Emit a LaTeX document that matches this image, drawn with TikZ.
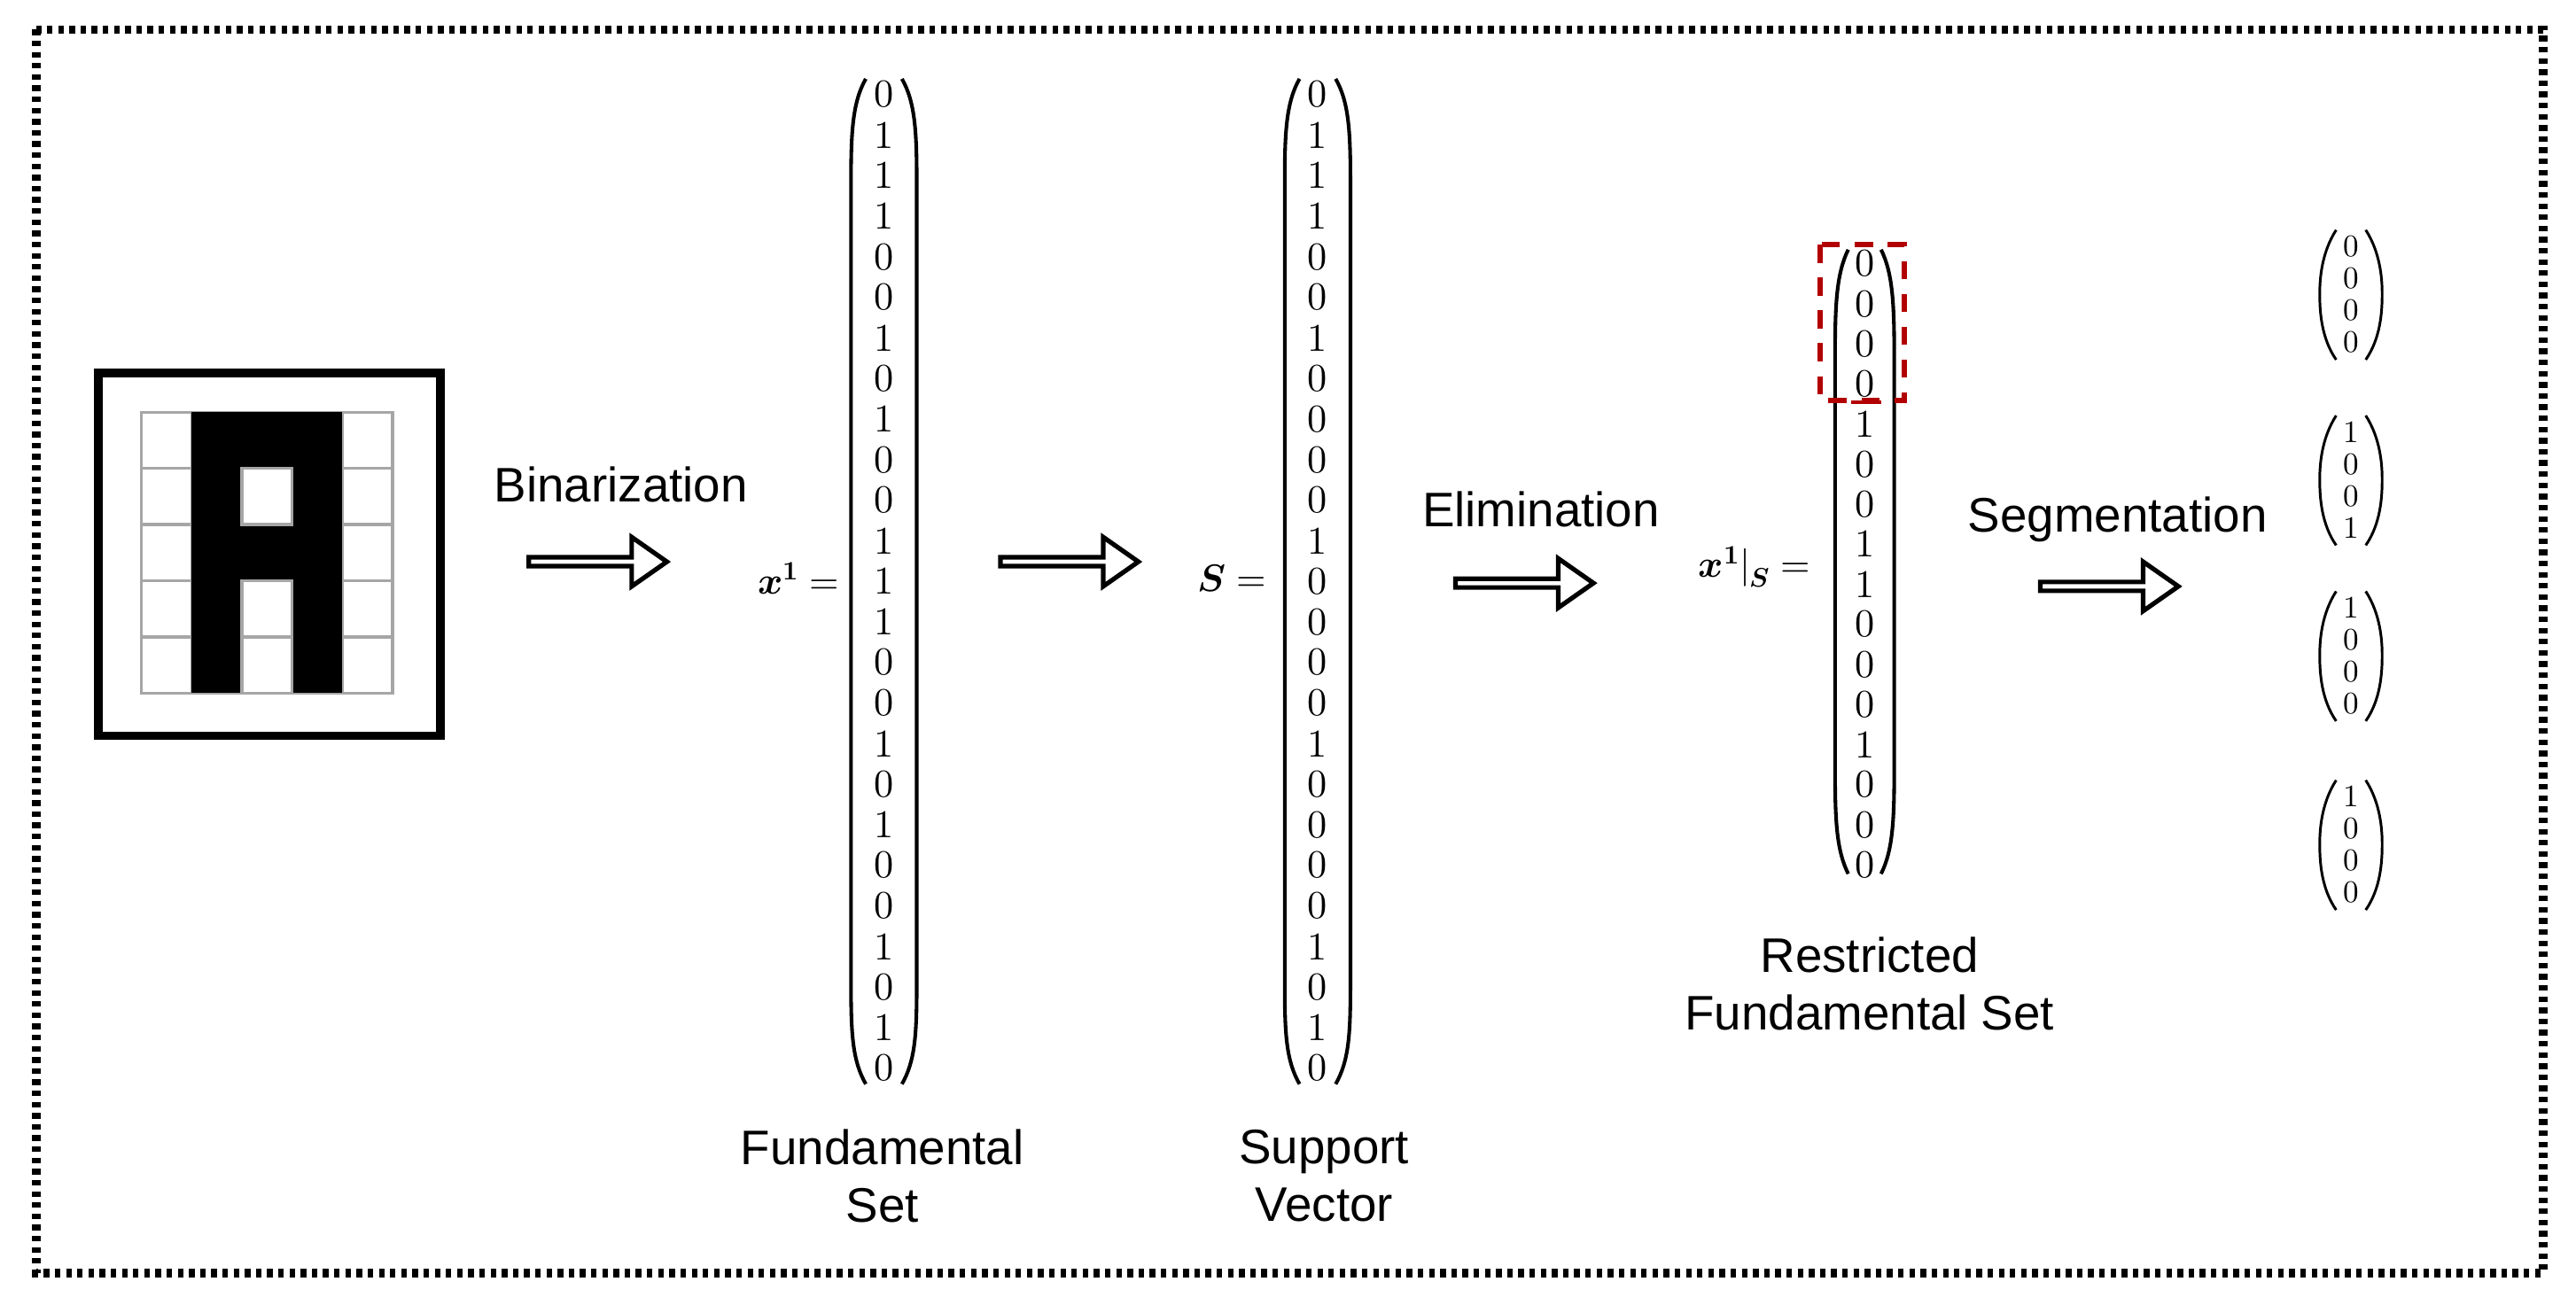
\documentclass[tikz,border=0pt]{standalone}
\usepackage{fontspec}
\usepackage{unicode-math}
\setmainfont{Liberation Sans}
\setmathfont{Latin Modern Math}
\usetikzlibrary{shapes.arrows}
\begin{document}
\begin{tikzpicture}[x=0.5mm,y=-0.5mm,
  lbl/.style={font=\fontsize{42}{50}\selectfont,align=center,inner sep=0},
  dig/.style={font=\fontsize{34}{34}\selectfont,inner sep=0},
  sdig/.style={font=\fontsize{27}{27}\selectfont,inner sep=0},
  eq/.style={font=\fontsize{33}{33}\selectfont,inner sep=0},
  paren/.style={line width=1.1mm},
  sparen/.style={line width=0.8mm},
  harrow/.style={single arrow,draw,line width=1.4mm,minimum width=15mm,single arrow head extend=3.2mm,single arrow tip angle=70,minimum height=42mm,inner sep=0,fill=white}]
\useasboundingbox (0,0) rectangle (1568,794.5);
\draw[line width=2.6mm,dash pattern=on 1.7mm off 1.7mm] (22,18) rectangle (1548,775);
% letter image
\draw[line width=2.6mm] (60,227) rectangle (268,448);
\foreach \c in {0,...,4}{\foreach \r in {0,...,4}{
  \draw[gray!70,line width=0.9mm] (86+\c*30.6,251+\r*34.2) rectangle ++(30.6,34.2);}}
\fill (116.6,251) rectangle (208.4,422);
\fill[white] (147.2,285.2) rectangle (177.8,319.4);
\fill[white] (147.2,353.6) rectangle (177.8,422);
\draw[gray!70,line width=0.9mm] (147.2,285.2) rectangle (177.8,319.4);
\draw[gray!70,line width=0.9mm] (147.2,353.6) rectangle (177.8,422) (147.2,387.8) -- (177.8,387.8);
% vector x1
\foreach \v [count=\i from 0] in {0,1,1,1,0,0,1,0,1,0,0,1,1,1,0,0,1,0,1,0,0,1,0,1,0}
  \node[dig] (fa\i) at (538,57.5+\i*24.7) {$\v$};
\draw[paren] (527,48) .. controls (519,62) and (518,80) .. (518,110) -- (518,600) .. controls (518,630) and (519,646) .. (527,660);
\draw[paren] (549,48) .. controls (557,62) and (558,80) .. (558,110) -- (558,600) .. controls (558,630) and (557,646) .. (549,660);
\node[eq] (fx) at (486,352) {$\symbfit{x}^{\symbf{1}}=$};
% vector S
\foreach \v [count=\i from 0] in {0,1,1,1,0,0,1,0,0,0,0,1,0,0,0,0,1,0,0,0,0,1,0,1,0}
  \node[dig] (sv\i) at (802,57.5+\i*24.7) {$\v$};
\draw[paren] (791,48) .. controls (783,62) and (782,80) .. (782,110) -- (782,600) .. controls (782,630) and (783,646) .. (791,660);
\draw[paren] (813,48) .. controls (821,62) and (822,80) .. (822,110) -- (822,600) .. controls (822,630) and (821,646) .. (813,660);
\node[eq] (sx) at (750,352) {$\symbfit{S}=$};
% restricted
\foreach \v [count=\i from 0] in {0,0,0,0,1,0,0,1,1,0,0,0,1,0,0,0}
  \node[dig] (rv\i) at (1135,160.5+\i*24.4) {$\v$};
\draw[paren] (1125,152) .. controls (1118,166) and (1117,185) .. (1117,215) -- (1117,470) .. controls (1117,500) and (1118,518) .. (1125,532);
\draw[paren] (1145,152) .. controls (1152,166) and (1153,185) .. (1153,215) -- (1153,470) .. controls (1153,500) and (1152,518) .. (1145,532);
\node[eq] (rx) at (1068,345) {$\symbfit{x}^{\symbf{1}}|_{\symbfit{S}}=$};
\draw[red!70!black,line width=1.6mm,dash pattern=on 5.5mm off 4.5mm] (1108,149) rectangle (1159,244);
\draw[red!70!black,line width=1mm] (1127,245) -- (1145,245);
% segmentation
\foreach \nm/\yy/\a/\b/\c/\d in {sa/150/0/0/0/0, sb/263/1/0/0/1, sc/370/1/0/0/0, sd/485/1/0/0/0}{
  \foreach \v [count=\i from 0] in {\a,\b,\c,\d}
    \node[sdig] (\nm\i) at (1431,\yy+\i*19.5) {$\v$};
  \draw[sparen] (1422,\yy-10) .. controls (1413,\yy+4) and (1412,\yy+20) .. (1412,\yy+29) .. controls (1412,\yy+40) and (1413,\yy+56) .. (1422,\yy+69);
  \draw[sparen] (1440,\yy-10) .. controls (1449,\yy+4) and (1450,\yy+20) .. (1450,\yy+29) .. controls (1450,\yy+40) and (1449,\yy+56) .. (1440,\yy+69);
}
% arrows
\node[harrow] (a1) at (362,342) {};
\node[harrow] (a2) at (649,342) {};
\node[harrow] (a3) at (926,355) {};
\node[harrow] (a4) at (1282,357) {};
% labels
\node[lbl] (l1) at (378,295) {Binarization};
\node[lbl] (l2) at (938,310) {Elimination};
\node[lbl] (l3) at (1289,316) {Segmentation};
\node[lbl] (l4) at (537,716) {Fundamental\\Set};
\node[lbl] (l5) at (806,716) {Support\\Vector};
\node[lbl] (l6) at (1138,599) {Restricted\\Fundamental Set};
\end{tikzpicture}
\end{document}
